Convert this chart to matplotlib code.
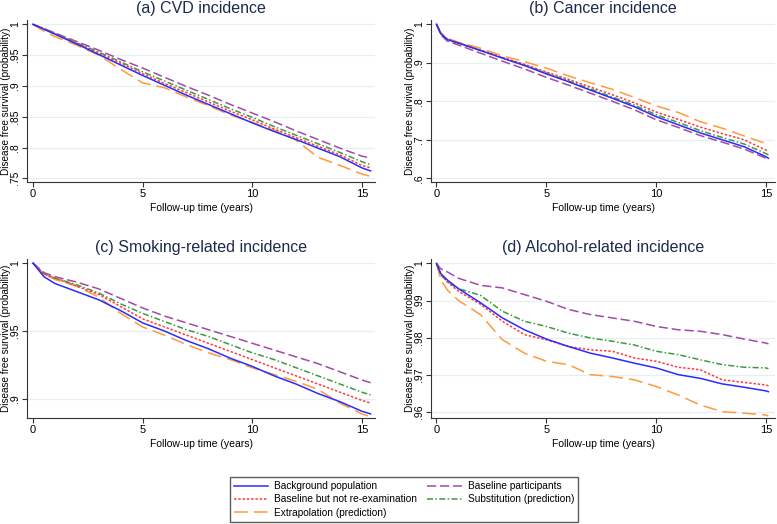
import numpy as np
import matplotlib
matplotlib.use("Agg")
from matplotlib import pyplot as plt

plt.rcParams['font.family'] = ['Liberation Sans', 'DejaVu Sans']

# tiempos (años)
t_ac = [0, 0.5, 1, 2, 3, 4, 5, 6, 7, 8, 9, 10, 11, 12, 13, 14, 15, 15.4]
t_bd = [0, 0.2, 0.5, 1, 2, 3, 4, 5, 6, 7, 8, 9, 10, 11, 12, 13, 14, 15, 15.1]

# (a) CVD incidence
cvd_blue = [1, .992, .984, .968, .951, .934, .917, .901, .885, .870, .855, .840, .826, .813, .799, .785, .767, .762]
cvd_red = [1, .993, .985, .969, .953, .937, .920, .904, .889, .874, .859, .845, .830, .816, .802, .788, .771, .767]
cvd_orange = [1, .989, .980, .966, .950, .927, .905, .897, .882, .868, .853, .841, .828, .812, .784, .771, .757, .753]
cvd_purple = [1, .993, .986, .972, .958, .943, .929, .914, .899, .885, .870, .856, .842, .827, .813, .799, .786, .783]
cvd_green = [1, .993, .985, .970, .955, .939, .923, .908, .893, .878, .863, .849, .834, .820, .806, .792, .777, .772]

# (b) Cancer incidence
can_blue = [1, .975, .960, .951, .932, .912, .893, .871, .851, .829, .808, .786, .760, .739, .718, .700, .682, .656, .652]
can_red = [1, .976, .961, .952, .933, .914, .896, .876, .857, .837, .817, .796, .772, .753, .733, .716, .700, .673, .670]
can_orange = [1, .978, .964, .953, .938, .918, .903, .886, .866, .848, .831, .810, .788, .771, .747, .730, .710, .690, .687]
can_purple = [1, .972, .956, .946, .925, .904, .884, .862, .842, .821, .800, .778, .752, .732, .711, .694, .676, .652, .648]
can_green = [1, .975, .960, .951, .932, .913, .894, .873, .853, .832, .811, .790, .765, .745, .724, .706, .689, .664, .661]

# (c) Smoking-related incidence
smk_blue = [1, .990, .985, .979, .973, .965, .956, .950, .943, .937, .930, .924, .917, .911, .904, .898, .891, .889]
smk_red = [1, .992, .989, .983, .977, .968, .959, .953, .947, .941, .935, .929, .923, .917, .911, .905, .899, .897]
smk_orange = [1, .992, .988, .983, .975, .963, .953, .947, .940, .934, .929, .923, .918, .913, .907, .897, .889, .887]
smk_purple = [1, .993, .990, .986, .981, .974, .967, .961, .956, .951, .946, .941, .936, .931, .926, .920, .914, .912]
smk_green = [1, .992, .989, .984, .978, .970, .963, .957, .951, .946, .940, .934, .929, .923, .917, .911, .905, .903]

# (d) Alcohol-related incidence
alc_blue = [1, .9972, .9955, .9932, .9894, .9853, .9821, .9796, .9776, .9758, .9745, .9731, .9718, .9700, .9690, .9675, .9666, .9656, .9654]
alc_red = [1, .9970, .9950, .9925, .9890, .9844, .9808, .9794, .9776, .9767, .9763, .9745, .9736, .9720, .9713, .9686, .9679, .9672, .9670]
alc_orange = [1, .9955, .9928, .9900, .9862, .9794, .9758, .9736, .9727, .9700, .9695, .9686, .9668, .9645, .9618, .9600, .9596, .9591, .9588]
alc_purple = [1, .9985, .9977, .9960, .9941, .9934, .9916, .9898, .9876, .9862, .9853, .9844, .9830, .9821, .9817, .9808, .9796, .9785, .9783]
alc_green = [1, .9970, .9950, .9932, .9914, .9871, .9844, .9830, .9812, .9799, .9790, .9780, .9763, .9754, .9740, .9727, .9720, .9718, .9716]

etiquetas = ["Background population", "Baseline but not re-examination",
             "Extrapolation (prediction)", "Baseline participants",
             "Substitution (prediction)"]
colores = ["#2b2bff", "#ff3b3b", "#ff9a3a", "#a24aa8", "#3f9a3f"]
estilos = ["-", (0, (1.6, 1.2)), (0, (9, 4)), (0, (6, 2.5)), (0, (4, 1.5, 1, 1.5))]

paneles = [
    ("(a) CVD incidence", t_ac, [cvd_blue, cvd_red, cvd_orange, cvd_purple, cvd_green],
     [1, .95, .9, .85, .8, .75], ["1", ".95", ".9", ".85", ".8", ".75"], (.744, 1.007),
     [27, 20, 375, 182], (-0.27, 15.6)),
    ("(b) Cancer incidence", t_bd, [can_blue, can_red, can_orange, can_purple, can_green],
     [1, .9, .8, .7, .6], ["1", ".9", ".8", ".7", ".6"], (.5905, 1.011),
     [431, 20, 775, 182], (-0.25, 15.4)),
    ("(c) Smoking-related incidence", t_ac, [smk_blue, smk_red, smk_orange, smk_purple, smk_green],
     [1, .95, .9], ["1", ".95", ".9"], (.886, 1.003),
     [27, 259, 375, 418], (-0.27, 15.6)),
    ("(d) Alcohol-related incidence", t_bd, [alc_blue, alc_red, alc_orange, alc_purple, alc_green],
     [1, .99, .98, .97, .96], ["1", ".99", ".98", ".97", ".96"], (.9583, 1.0012),
     [431, 259, 775, 418], (-0.25, 15.4)),
]

W, H = 777, 524
fig = plt.figure(figsize=(W / 100, H / 100), dpi=100)
fig.patch.set_facecolor("white")

lineas = {}
for titulo, t, series, yt, ytl, ylim, caja, xlim in paneles:
    x0, y0, x1, y1 = caja
    ax = fig.add_axes([x0 / W, 1 - y1 / H, (x1 - x0) / W, (y1 - y0) / H])
    for i in [2, 3, 4, 1, 0]:
        l, = ax.plot(t, series[i], color=colores[i], linestyle=estilos[i], lw=1.1)
        lineas[i] = l
    ax.set_xlim(xlim)
    ax.set_ylim(ylim)
    ax.set_xticks([0, 5, 10, 15])
    ax.set_yticks(yt)
    ax.set_yticklabels(ytl, rotation=90, va="center")
    ax.tick_params(axis="x", labelsize=8, length=3.5, width=0.8, color="#333333", pad=1.5)
    ax.tick_params(axis="y", labelsize=7.5, length=3.5, width=0.8, color="#333333", pad=1.5)
    ax.grid(axis="y", color="#e6eff1", lw=0.9)
    ax.set_axisbelow(True)
    for s in ["top", "right"]:
        ax.spines[s].set_visible(False)
    for s in ["left", "bottom"]:
        ax.spines[s].set_color("#333333")
        ax.spines[s].set_linewidth(0.8)
    ax.set_title(titulo, fontsize=11.5, color="#1c2a4e", pad=5)
    ax.set_xlabel("Follow-up time (years)", fontsize=7.5, labelpad=3)
    ax.set_ylabel("Disease free survival (probability)", fontsize=7.2, labelpad=0)
    ax.yaxis.set_label_coords(-16 / (x1 - x0), 0.5)

fig.legend([lineas[i] for i in range(5)], etiquetas, ncol=2, loc="center",
           bbox_to_anchor=(404 / W, 1 - 499.5 / H), fontsize=7.3, frameon=True,
           fancybox=False, edgecolor="#333333", handlelength=3.4,
           columnspacing=1.0, labelspacing=0.3, borderpad=0.4, handletextpad=0.6)

fig.savefig("out.png", dpi=100, facecolor="white")
